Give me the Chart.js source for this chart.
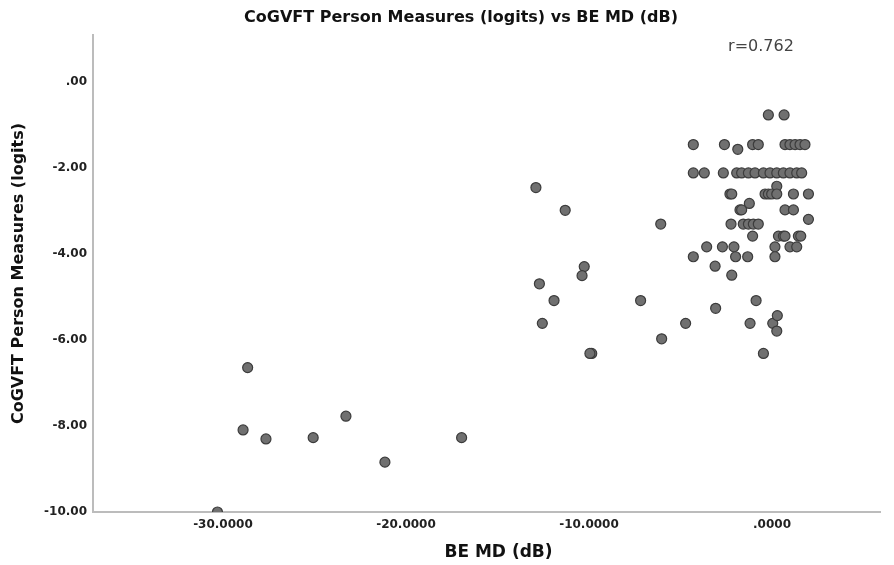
<!DOCTYPE html>
<html>
<head>
<meta charset="utf-8">
<script src="https://cdn.jsdelivr.net/npm/chart.js"></script>
<style>
    html, body { margin: 0; padding: 0; background: #ffffff; }
    #wrap { width: 894px; height: 565px; }
</style>
</head>
<body>
<div id="wrap"><canvas id="chart" width="894" height="565"></canvas></div>
<script>
// BE MD (dB), one value per person
var beMD = [
    -30.3, -28.65, -28.9, -27.65, -25.07, -23.28, -21.15, -16.96,
    -12.9, -11.3, -6.08, -10.26, -10.38, -12.71, -11.91, -7.18, -4.72, -12.55, -6.03, -9.85, -9.95,
    -0.20, 0.66,
    -4.30, -2.60, -1.06, -0.75, 0.71, 0.98, 1.26, 1.53, 1.80, -1.87,
    -4.30, -3.70, -2.66, -1.93, -1.66, -1.29, -0.93, -0.47, -0.11, 0.26, 0.62, 0.98, 1.35, 1.62,
    0.26,
    -2.30, -2.20, -0.38, -0.20, -0.02, 0.26, 1.17, 1.99,
    -1.24, -1.75, -1.66, 0.71, 1.17, 1.99,
    -2.24, -1.57, -1.29, -1.02, -0.75,
    -1.06, 0.35, 0.62, 0.71, 1.44, 1.57,
    -3.57, -2.71, -2.08, 0.16, 0.98, 1.35,
    -4.30, -1.99, -1.33, 0.16,
    -3.11, -2.20, -0.87, -3.08, -1.20, 0.04, 0.29, 0.26, -0.47
];

// CoGVFT person measures (logits), same order as beMD
var personMeasures = [
    -10.0, -6.64, -8.09, -8.30, -8.27, -7.77, -8.84, -8.27,
    -2.45, -2.98, -3.30, -4.29, -4.50, -4.69, -5.08, -5.08, -5.61, -5.61, -5.97, -6.31, -6.31,
    -0.76, -0.76,
    -1.45, -1.45, -1.45, -1.45, -1.45, -1.45, -1.45, -1.45, -1.45, -1.56,
    -2.11, -2.11, -2.11, -2.11, -2.11, -2.11, -2.11, -2.11, -2.11, -2.11, -2.11, -2.11, -2.11, -2.11,
    -2.42,
    -2.60, -2.60, -2.60, -2.60, -2.60, -2.60, -2.60, -2.60,
    -2.82, -2.97, -2.97, -2.97, -2.97, -3.19,
    -3.30, -3.30, -3.30, -3.30, -3.30,
    -3.58, -3.58, -3.58, -3.58, -3.58, -3.58,
    -3.83, -3.83, -3.83, -3.83, -3.83, -3.83,
    -4.06, -4.06, -4.06, -4.06,
    -4.28, -4.49, -5.08, -5.26, -5.61, -5.61, -5.43, -5.79, -6.31
];

var xTicks = [-30, -20, -10, 0];
var yTicks = [-10, -8, -6, -4, -2, 0];
var chartTitle = "CoGVFT Person Measures (logits) vs BE MD (dB)";
var xTitle = "BE MD (dB)";
var yTitle = "CoGVFT Person Measures (logits)";
var corrLabel = "r=0.762";

var points = beMD.map(function(x, i) {
    return { x: x, y: personMeasures[i] };
});

// main title, x title and the correlation text (SPSS places them off-centre)
var textPlugin = {
    id: "spssText",
    afterDraw: function(chart) {
        var ctx = chart.ctx;
        var area = chart.chartArea;
        ctx.save();
        ctx.textAlign = "center";
        ctx.textBaseline = "middle";
        ctx.fillStyle = "#111111";
        ctx.font = 'bold 16px "DejaVu Sans", sans-serif';
        ctx.fillText(chartTitle, chart.width / 2 + 14, 18);
        ctx.font = 'bold 17px "DejaVu Sans", sans-serif';
        ctx.fillText(xTitle, (area.left + area.right) / 2 + 12, chart.height - 12);
        ctx.font = '16px "DejaVu Sans", sans-serif';
        ctx.fillStyle = "#444444";
        ctx.fillText(corrLabel, area.right - 119, area.top + 12);
        ctx.restore();
    }
};

Chart.defaults.font.family = '"DejaVu Sans", sans-serif';

new Chart(document.getElementById("chart").getContext("2d"), {
    type: "scatter",
    data: {
        datasets: [{
            data: points,
            pointRadius: 5,
            pointHoverRadius: 5,
            backgroundColor: "#707070",
            borderColor: "#3c3c3c",
            borderWidth: 1.2,
            clip: { left: 8, top: 8, right: 8, bottom: 0 }
        }]
    },
    options: {
        responsive: false,
        animation: false,
        layout: { padding: { top: 35, right: 14 } },
        plugins: {
            legend: { display: false },
            tooltip: { enabled: false },
            title: { display: false }
        },
        scales: {
            x: {
                type: "linear",
                min: -37.1,
                max: 5.9,
                afterBuildTicks: function(scale) {
                    scale.ticks = xTicks.map(function(v) { return { value: v }; });
                },
                afterFit: function(scale) {
                    scale.height = 53;
                    scale.paddingLeft = 0;
                    scale.paddingRight = 0;
                },
                grid: { display: false, drawTicks: false },
                border: { display: true, color: "#bcbcbc", width: 2 },
                ticks: {
                    autoSkip: false,
                    maxRotation: 0,
                    padding: 6,
                    color: "#222222",
                    font: { size: 12, weight: "bold" },
                    callback: function(v) { return v === 0 ? ".0000" : v.toFixed(4); }
                },
                title: { display: false }
            },
            y: {
                type: "linear",
                min: -10,
                max: 1.1,
                afterBuildTicks: function(scale) {
                    scale.ticks = yTicks.map(function(v) { return { value: v }; });
                },
                afterFit: function(scale) {
                    scale.width = 93;
                    scale.paddingTop = 0;
                    scale.paddingBottom = 0;
                },
                grid: { display: false, drawTicks: false },
                border: { display: true, color: "#bcbcbc", width: 2 },
                ticks: {
                    padding: 6,
                    color: "#222222",
                    font: { size: 12, weight: "bold" },
                    callback: function(v) { return v === 0 ? ".00" : v.toFixed(2); }
                },
                title: {
                    display: true,
                    text: yTitle,
                    color: "#111111",
                    font: { size: 16, weight: "bold" },
                    padding: { top: 9, bottom: 0 }
                }
            }
        }
    },
    plugins: [textPlugin]
});
</script>
</body>
</html>
